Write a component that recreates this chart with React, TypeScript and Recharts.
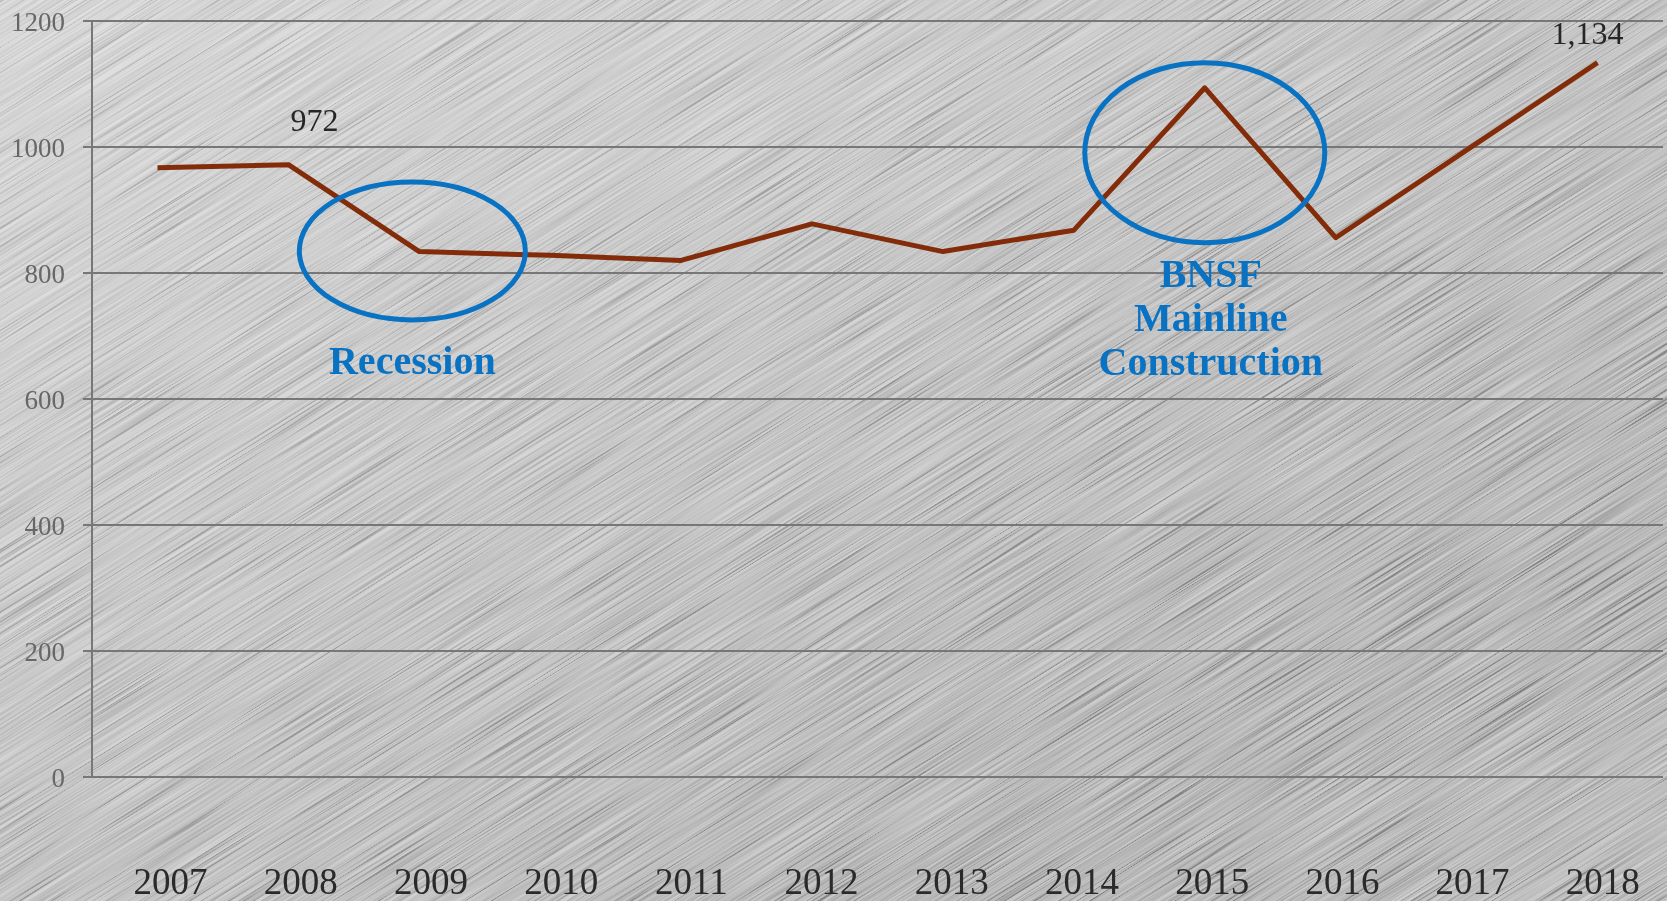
import React from 'react';
import {
  LineChart,
  Line,
  XAxis,
  YAxis,
  CartesianGrid,
  LabelList,
  ReferenceDot,
} from 'recharts';

// values
const years = ['2007', '2008', '2009', '2010', '2011', '2012', '2013', '2014', '2015', '2016', '2017', '2018'];
const counts = [967, 972, 834, 828, 820, 878, 834, 868, 1094, 856, 995, 1134];
const yTicks = [0, 200, 400, 600, 800, 1000, 1200];
const labeledYears = ['2008', '2018'];

// annotation ellipses (centre in data terms)
const recessionYear = '2009';
const recessionLevel = 835;
const bnsfYear = '2015';
const bnsfLevel = 991;
const bnsfLines = ['BNSF', 'Mainline', 'Construction'];

const chartData = years.map((year, i) => ({ year, value: counts[i] }));

const FONT = '"Liberation Serif", "Times New Roman", serif';
const BLUE = '#0a72c2';
const GRID = '#777777';

const labelOffsets: Record<string, { dx: number; dy: number }> = {
  '2008': { dx: 26, dy: -34 },
  '2018': { dx: -10, dy: -19 },
};

const fmt = (v: number) => v.toLocaleString('en-US');

const XTick = (props: any) => {
  const { x, y, payload, index } = props;
  // category labels sit a little right of the points, drifting left across the axis
  const dx = 13 - 0.7 * index;
  return (
    <text x={x + dx} y={y + 117} textAnchor="middle" fill="#2a2a2a" fontSize={37} fontFamily={FONT}>
      {payload.value}
    </text>
  );
};

const DataLabel = (props: any) => {
  const { x, y, value, index } = props;
  const year = years[index];
  if (!labeledYears.includes(year)) return null;
  const off = labelOffsets[year];
  return (
    <text x={x + off.dx} y={y + off.dy} textAnchor="middle" fill="#262626" fontSize={32} fontFamily={FONT}>
      {fmt(value)}
    </text>
  );
};

const RecessionShape = (props: any) => {
  const { cx, cy } = props;
  return (
    <g>
      <ellipse cx={cx - 7} cy={cy} rx={113} ry={69} fill="none" stroke={BLUE} strokeWidth={5} />
      <text x={cx - 7} y={cy + 123} textAnchor="middle" fill={BLUE} fontSize={40} fontWeight="bold" fontFamily={FONT}>
        Recession
      </text>
    </g>
  );
};

const BnsfShape = (props: any) => {
  const { cx, cy } = props;
  return (
    <g>
      <ellipse cx={cx} cy={cy} rx={120} ry={90} fill="none" stroke={BLUE} strokeWidth={5} />
      {bnsfLines.map((t, i) => (
        <text
          key={t}
          x={cx + 6}
          y={cy + 134 + i * 44}
          textAnchor="middle"
          fill={BLUE}
          fontSize={40}
          fontWeight="bold"
          fontFamily={FONT}
        >
          {t}
        </text>
      ))}
    </g>
  );
};

const Background = () => (
  <svg width={1667} height={901} style={{ position: 'absolute', left: 0, top: 0 }}>
    <defs>
      <linearGradient id="metal" x1="0" y1="0" x2="1" y2="1">
        <stop offset="0%" stopColor="#cdcdcd" />
        <stop offset="40%" stopColor="#bababa" />
        <stop offset="80%" stopColor="#a6a6a6" />
        <stop offset="100%" stopColor="#b0b0b0" />
      </linearGradient>
      <filter id="brush" x="0" y="0" width="100%" height="100%" filterUnits="objectBoundingBox">
        <feTurbulence type="fractalNoise" baseFrequency="0.006 0.7" numOctaves="2" seed="7" />
        <feColorMatrix type="matrix" values="1 0 0 0 0  1 0 0 0 0  1 0 0 0 0  0 0 0 0 1" />
        <feComponentTransfer>
          <feFuncR type="linear" slope="2.4" intercept="-0.7" />
          <feFuncG type="linear" slope="2.4" intercept="-0.7" />
          <feFuncB type="linear" slope="2.4" intercept="-0.7" />
        </feComponentTransfer>
      </filter>
    </defs>
    <rect x={0} y={0} width={1667} height={901} fill="url(#metal)" />
    <g transform="rotate(-32 833 450)" style={{ mixBlendMode: 'overlay' }} opacity={0.42}>
      <rect x={-700} y={-900} width={3100} height={2700} filter="url(#brush)" />
    </g>
  </svg>
);

export default function App() {
  return (
    <div style={{ position: 'absolute', left: 0, top: 0, width: 1667, height: 901, overflow: 'hidden' }}>
      <Background />
      <div style={{ position: 'absolute', left: 0, top: 0 }}>
        <LineChart width={1667} height={901} data={chartData} margin={{ top: 21, right: 4, bottom: 0, left: 0 }}>
          <CartesianGrid vertical={false} stroke={GRID} strokeWidth={2} />
          <XAxis
            dataKey="year"
            height={124}
            padding={{ left: 65.5, right: 65.5 }}
            tickLine={false}
            tickSize={0}
            tickMargin={0}
            axisLine={{ stroke: GRID, strokeWidth: 2 }}
            tick={<XTick />}
            interval={0}
          />
          <YAxis
            width={92}
            domain={[0, 1200]}
            ticks={yTicks}
            tickSize={9}
            tickMargin={18}
            tickLine={{ stroke: GRID, strokeWidth: 2 }}
            axisLine={{ stroke: GRID, strokeWidth: 2 }}
            tick={{ fill: '#676767', fontSize: 27, fontFamily: FONT }}
          />
          <Line
            type="linear"
            dataKey="value"
            stroke="#832c0a"
            strokeWidth={5}
            strokeLinejoin="round"
            dot={false}
            activeDot={false}
            isAnimationActive={false}
          >
            <LabelList dataKey="value" content={<DataLabel />} />
          </Line>
          <ReferenceDot x={recessionYear} y={recessionLevel} ifOverflow="visible" shape={<RecessionShape />} />
          <ReferenceDot x={bnsfYear} y={bnsfLevel} ifOverflow="visible" shape={<BnsfShape />} />
        </LineChart>
      </div>
    </div>
  );
}
